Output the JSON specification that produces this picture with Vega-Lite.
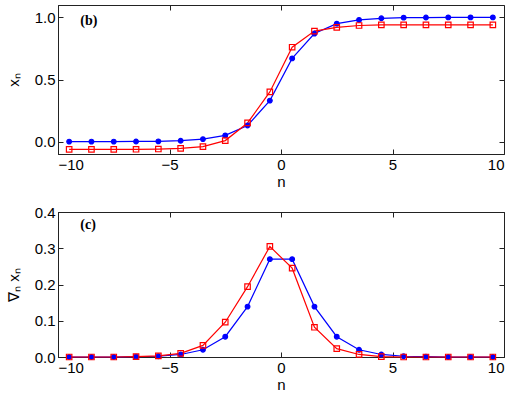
{
  "$schema": "https://vega.github.io/schema/vega-lite/v6.json",
  "padding": {"left": 5, "top": 4, "right": 5, "bottom": 5},
  "datasets": {
    "d": [
      {"n": -9.5, "s": "a", "x": 0, "dx": 0},
      {"n": -8.5, "s": "a", "x": 0, "dx": 0},
      {"n": -7.5, "s": "a", "x": 0, "dx": 0},
      {"n": -6.5, "s": "a", "x": 0.001, "dx": 0.001},
      {"n": -5.5, "s": "a", "x": 0.002, "dx": 0.002},
      {"n": -4.5, "s": "a", "x": 0.007, "dx": 0.007},
      {"n": -3.5, "s": "a", "x": 0.02, "dx": 0.02},
      {"n": -2.5, "s": "a", "x": 0.05, "dx": 0.056},
      {"n": -1.5, "s": "a", "x": 0.13, "dx": 0.139},
      {"n": -0.5, "s": "a", "x": 0.33, "dx": 0.27},
      {"n": 0.5, "s": "a", "x": 0.67, "dx": 0.27},
      {"n": 1.5, "s": "a", "x": 0.87, "dx": 0.139},
      {"n": 2.5, "s": "a", "x": 0.95, "dx": 0.056},
      {"n": 3.5, "s": "a", "x": 0.98, "dx": 0.02},
      {"n": 4.5, "s": "a", "x": 0.993, "dx": 0.007},
      {"n": 5.5, "s": "a", "x": 0.998, "dx": 0.002},
      {"n": 6.5, "s": "a", "x": 0.999, "dx": 0.001},
      {"n": 7.5, "s": "a", "x": 1, "dx": 0},
      {"n": 8.5, "s": "a", "x": 1, "dx": 0},
      {"n": 9.5, "s": "a", "x": 1, "dx": 0},
      {"n": -9.5, "s": "b", "x": -0.063, "dx": 0},
      {"n": -8.5, "s": "b", "x": -0.063, "dx": 0},
      {"n": -7.5, "s": "b", "x": -0.063, "dx": 0},
      {"n": -6.5, "s": "b", "x": -0.062, "dx": 0.001},
      {"n": -5.5, "s": "b", "x": -0.06, "dx": 0.003},
      {"n": -4.5, "s": "b", "x": -0.055, "dx": 0.01},
      {"n": -3.5, "s": "b", "x": -0.041, "dx": 0.032},
      {"n": -2.5, "s": "b", "x": 0.008, "dx": 0.096},
      {"n": -1.5, "s": "b", "x": 0.15, "dx": 0.194},
      {"n": -0.5, "s": "b", "x": 0.4, "dx": 0.305},
      {"n": 0.5, "s": "b", "x": 0.76, "dx": 0.245},
      {"n": 1.5, "s": "b", "x": 0.89, "dx": 0.082},
      {"n": 2.5, "s": "b", "x": 0.92, "dx": 0.023},
      {"n": 3.5, "s": "b", "x": 0.935, "dx": 0.007},
      {"n": 4.5, "s": "b", "x": 0.94, "dx": 0.001},
      {"n": 5.5, "s": "b", "x": 0.94, "dx": 0},
      {"n": 6.5, "s": "b", "x": 0.94, "dx": 0},
      {"n": 7.5, "s": "b", "x": 0.94, "dx": 0},
      {"n": 8.5, "s": "b", "x": 0.94, "dx": 0},
      {"n": 9.5, "s": "b", "x": 0.94, "dx": 0}
    ],
    "labb": [{"n": -9.0, "y": 0.975, "t": "(b)"}],
    "labc": [{"n": -9.0, "y": 0.363, "t": "(c)"}]
  },
  "config": {
    "view": {"stroke": "#222", "strokeWidth": 1},
    "axis": {
      "labelFont": "Liberation Sans", "labelFontSize": 15, "labelColor": "#000",
      "titleFont": "Liberation Sans", "titleFontSize": 15, "titleFontWeight": "normal", "titleColor": "#000",
      "grid": false, "tickSize": -5, "tickColor": "#222", "domainColor": "#222",
      "labelPadding": 8, "titlePadding": 2
    }
  },
  "spacing": 14,
  "vconcat": [
    {
      "width": 446, "height": 149,
      "resolve": {"axis": {"x": "independent", "y": "independent"}},
      "layer": [
        {
          "data": {"name": "d"},
          "mark": {"type": "line", "strokeWidth": 1.2},
          "encoding": {
            "x": {"field": "n", "type": "quantitative", "scale": {"domain": [-10, 10], "nice": false},
                  "axis": {"title": "n", "values": [-10, -5, 0, 5, 10]}},
            "y": {"field": "x", "type": "quantitative", "scale": {"domain": [-0.1, 1.1], "nice": false, "zero": false},
                  "axis": {"title": "xₙ", "values": [0, 0.5, 1], "titlePadding": 13}},
            "color": {"field": "s", "type": "nominal", "scale": {"domain": ["a", "b"], "range": ["#0000ff", "#ff0000"]}, "legend": null}
          }
        },
        {
          "data": {"name": "d"},
          "mark": {"type": "point", "strokeWidth": 1.2, "opacity": 1},
          "encoding": {
            "x": {"field": "n", "type": "quantitative", "axis": {"orient": "top", "labels": false, "title": null, "values": [-10, -5, 0, 5, 10], "domain": false}},
            "y": {"field": "x", "type": "quantitative", "axis": {"orient": "right", "labels": false, "title": null, "values": [0, 0.5, 1], "domain": false}},
            "shape": {"field": "s", "type": "nominal", "scale": {"domain": ["a", "b"], "range": ["circle", "square"]}, "legend": null},
            "stroke": {"field": "s", "type": "nominal", "scale": {"domain": ["a", "b"], "range": ["#0000ff", "#ff0000"]}, "legend": null},
            "fill": {"field": "s", "type": "nominal", "scale": {"domain": ["a", "b"], "range": ["#0000ff", "transparent"]}, "legend": null},
            "size": {"field": "s", "type": "nominal", "scale": {"domain": ["a", "b"], "range": [22, 30]}, "legend": null}
          }
        },
        {
          "data": {"name": "labb"},
          "mark": {"type": "text", "font": "Liberation Serif", "fontWeight": "bold", "fontSize": 14, "align": "left", "baseline": "middle"},
          "encoding": {
            "x": {"field": "n", "type": "quantitative", "axis": null},
            "y": {"field": "y", "type": "quantitative", "axis": null},
            "text": {"field": "t"}
          }
        }
      ]
    },
    {
      "width": 446, "height": 145,
      "resolve": {"axis": {"x": "independent", "y": "independent"}},
      "layer": [
        {
          "data": {"name": "d"},
          "mark": {"type": "line", "strokeWidth": 1.2},
          "encoding": {
            "x": {"field": "n", "type": "quantitative", "scale": {"domain": [-10, 10], "nice": false},
                  "axis": {"title": "n", "values": [-10, -5, 0, 5, 10]}},
            "y": {"field": "dx", "type": "quantitative", "scale": {"domain": [0, 0.4], "nice": false},
                  "axis": {"title": "∇ₙ xₙ", "values": [0, 0.1, 0.2, 0.3, 0.4], "titlePadding": 13}},
            "color": {"field": "s", "type": "nominal", "scale": {"domain": ["a", "b"], "range": ["#0000ff", "#ff0000"]}, "legend": null}
          }
        },
        {
          "data": {"name": "d"},
          "mark": {"type": "point", "strokeWidth": 1.2, "opacity": 1},
          "encoding": {
            "x": {"field": "n", "type": "quantitative", "axis": {"orient": "top", "labels": false, "title": null, "values": [-10, -5, 0, 5, 10], "domain": false}},
            "y": {"field": "dx", "type": "quantitative", "axis": {"orient": "right", "labels": false, "title": null, "values": [0, 0.1, 0.2, 0.3, 0.4], "domain": false}},
            "shape": {"field": "s", "type": "nominal", "scale": {"domain": ["a", "b"], "range": ["circle", "square"]}, "legend": null},
            "stroke": {"field": "s", "type": "nominal", "scale": {"domain": ["a", "b"], "range": ["#0000ff", "#ff0000"]}, "legend": null},
            "fill": {"field": "s", "type": "nominal", "scale": {"domain": ["a", "b"], "range": ["#0000ff", "transparent"]}, "legend": null},
            "size": {"field": "s", "type": "nominal", "scale": {"domain": ["a", "b"], "range": [22, 30]}, "legend": null}
          }
        },
        {
          "data": {"name": "labc"},
          "mark": {"type": "text", "font": "Liberation Serif", "fontWeight": "bold", "fontSize": 14, "align": "left", "baseline": "middle"},
          "encoding": {
            "x": {"field": "n", "type": "quantitative", "axis": null},
            "y": {"field": "y", "type": "quantitative", "axis": null},
            "text": {"field": "t"}
          }
        }
      ]
    }
  ]
}
